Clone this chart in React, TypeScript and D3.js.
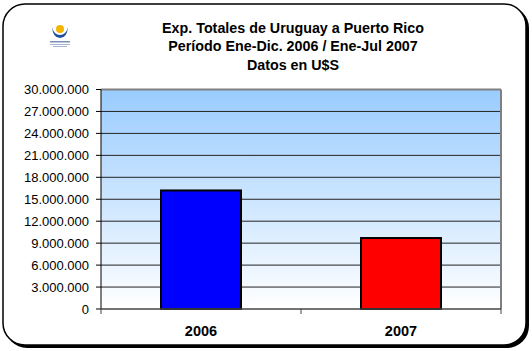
import React from "react";
import * as d3 from "d3";

const categories = ["2006", "2007"];
const values = [16200000, 9700000];
const barColors = ["#0000FF", "#FF0000"];
const yTicks = [0, 3000000, 6000000, 9000000, 12000000, 15000000, 18000000, 21000000, 24000000, 27000000, 30000000];
const titleLines = ["Exp. Totales de Uruguay a Puerto Rico", "Período Ene-Dic. 2006 / Ene-Jul 2007", "Datos en U$S"];

const W = 532, H = 351;
const plot = { left: 101, right: 501, top: 89.5, bottom: 309 };

const fmt = (v: number) => (v === 0 ? "0" : d3.format(",")(v).replace(/,/g, "."));

export default function App() {
  const x = d3.scaleBand<string>().domain(categories).range([plot.left, plot.right]).paddingInner(0.6).paddingOuter(0.3);
  const y = d3.scaleLinear().domain([0, 30000000]).range([plot.bottom, plot.top]);
  const font = "Arial, 'Liberation Sans', sans-serif";
  return (
    <svg width={W} height={H} style={{ position: "absolute", left: 0, top: 0 }} fontFamily={font}>
      <defs>
        <linearGradient id="bg" x1="0" y1="0" x2="0" y2="1">
          <stop offset="0" stopColor="#99CCFF" />
          <stop offset="1" stopColor="#FFFFFF" />
        </linearGradient>
      </defs>
      <rect x={0} y={0} width={W} height={H} fill="#fff" />
      {/* shadow */}
      <rect x={5} y={6} width={524} height={342} rx={22} fill="#000" />
      <rect x={3} y={4} width={523} height={341} rx={22} fill="#fff" stroke="#000" strokeWidth={1.5} />
      {/* logo */}
      <g>
        <circle cx={60} cy={29} r={4} fill="#F5B400" />
        <path d="M52,27 Q53,38 60,38 Q67,38 68,27 Q66,35 60,35 Q54,35 52,27 Z" fill="#1F4E9E" />
        <rect x={50} y={41} width={20} height={1.5} fill="#7A8FB8" />
        <rect x={50} y={44} width={20} height={1} fill="#A9B6D3" />
        <rect x={53} y={46} width={14} height={1} fill="#A9B6D3" />
      </g>
      {/* title */}
      {titleLines.map((t, i) => (
        <text key={i} x={293} y={32.5 + i * 18.5} textAnchor="middle" fontSize={14.3} fontWeight="bold" fill="#000">
          {t}
        </text>
      ))}
      {/* plot background */}
      <rect x={plot.left} y={plot.top} width={plot.right - plot.left} height={plot.bottom - plot.top} fill="url(#bg)" />
      {/* gridlines */}
      {yTicks.slice(1, -1).map((t) => (
        <line key={t} x1={plot.left} x2={plot.right} y1={y(t)} y2={y(t)} stroke="#222" strokeWidth={1} />
      ))}
      {/* plot border top/right */}
      <line x1={plot.left} x2={plot.right} y1={plot.top} y2={plot.top} stroke="#808080" strokeWidth={2} />
      <line x1={plot.right} x2={plot.right} y1={plot.top} y2={plot.bottom} stroke="#808080" strokeWidth={2} />
      {/* bars */}
      {categories.map((c, i) => (
        <rect key={c} x={x(c)} y={y(values[i])} width={x.bandwidth()} height={plot.bottom - y(values[i])}
          fill={barColors[i]} stroke="#000" strokeWidth={2} />
      ))}
      {/* axes */}
      <line x1={plot.left} x2={plot.left} y1={plot.top} y2={plot.bottom} stroke="#000" strokeWidth={1} />
      <line x1={plot.left} x2={plot.right} y1={plot.bottom} y2={plot.bottom} stroke="#444" strokeWidth={1.5} />
      {yTicks.map((t) => (
        <g key={t}>
          <line x1={plot.left - 5} x2={plot.left} y1={y(t)} y2={y(t)} stroke="#000" />
          <text x={89} y={y(t) + 4.5} textAnchor="end" fontSize={13} fill="#000">{fmt(t)}</text>
        </g>
      ))}
      {[plot.left, (plot.left + plot.right) / 2, plot.right].map((px, i) => (
        <line key={i} x1={px} x2={px} y1={plot.bottom} y2={plot.bottom + 5} stroke="#444" />
      ))}
      {categories.map((c) => (
        <text key={c} x={(x(c) as number) + x.bandwidth() / 2} y={336} textAnchor="middle" fontSize={14.5} fontWeight="bold" fill="#000">
          {c}
        </text>
      ))}
    </svg>
  );
}
